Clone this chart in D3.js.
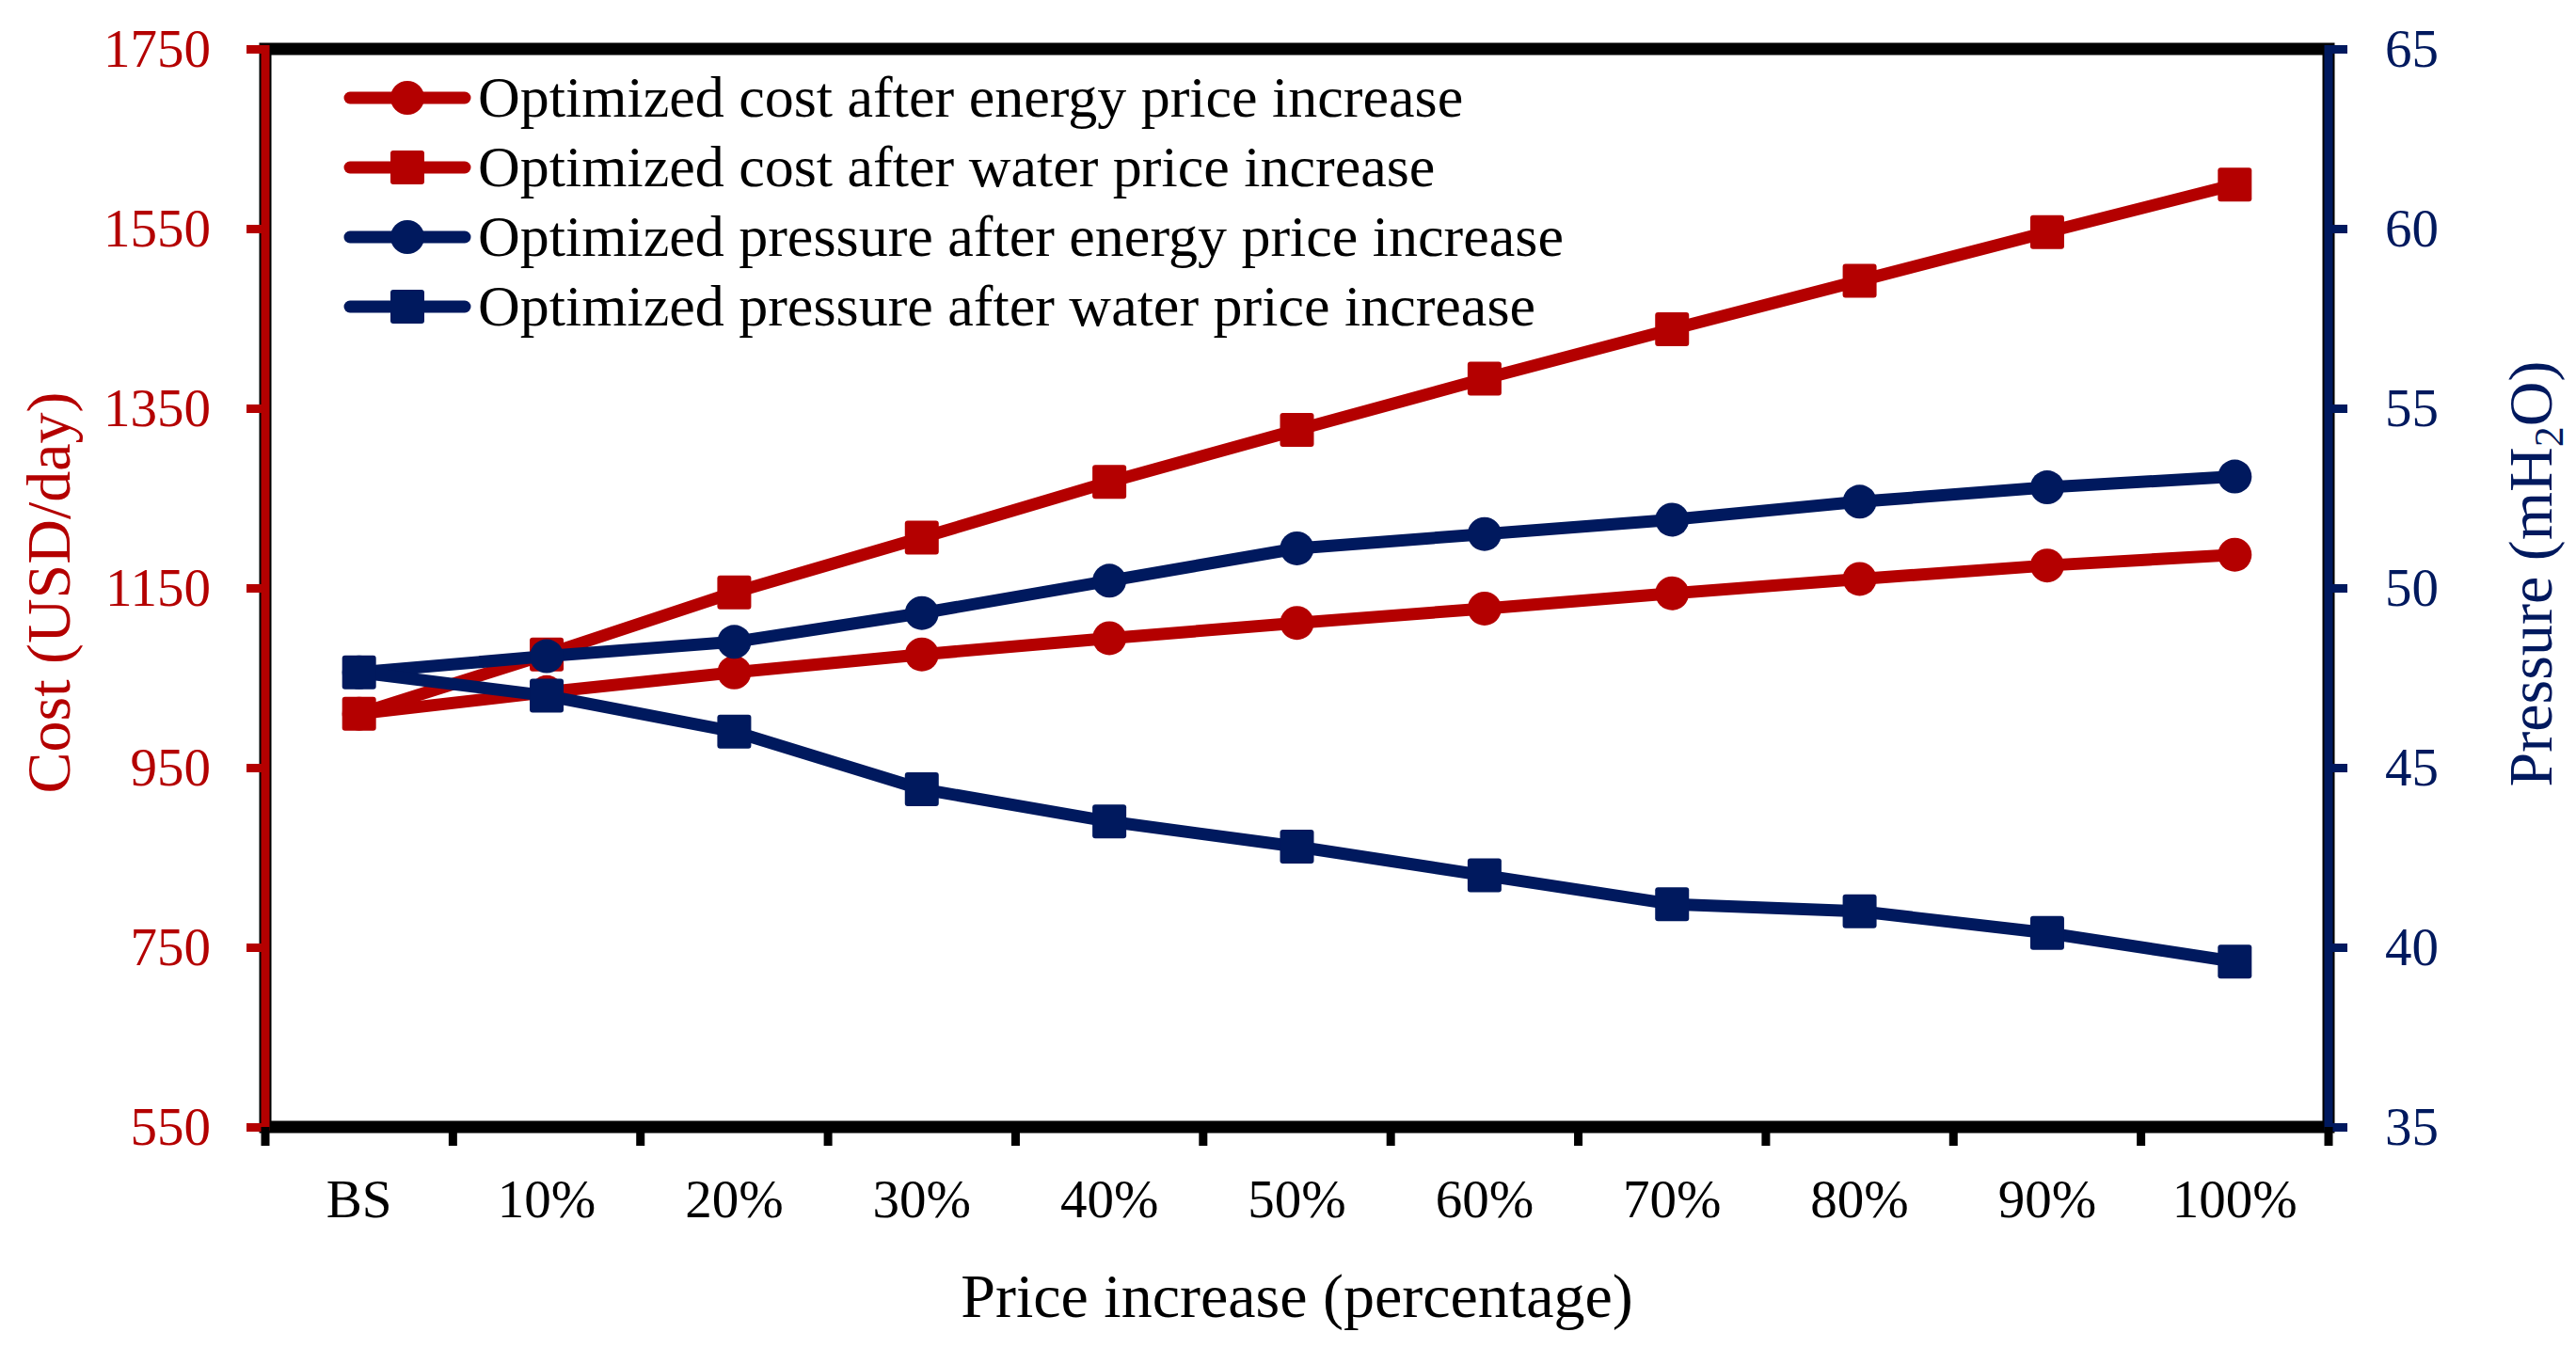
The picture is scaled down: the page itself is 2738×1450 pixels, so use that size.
<!DOCTYPE html>
<html>
<head>
<meta charset="utf-8">
<script src="https://cdn.jsdelivr.net/npm/d3@7"></script>
<style>
  body { margin: 0; background: #fff; }
  svg text { font-family: "Liberation Serif", "Times New Roman", serif; }
</style>
</head>
<body>
<svg id="chart"></svg>
<script>
var width = 2738,
    height = 1450;

var red = "#b40000",
    navy = "#00195e";

// x categories
var categories = ["BS","10%","20%","30%","40%","50%","60%","70%","80%","90%","100%"];

// cost (USD/day), left axis
var costEnergy = [1010,1034,1056,1076,1094,1111,1127,1144,1160,1175,1187];
var costWater  = [1010,1076,1145,1206,1268,1326,1383,1438,1492,1546,1599];

// pressure (mH2O), right axis
var pressEnergy = [47.65,48.1,48.5,49.3,50.2,51.1,51.5,51.9,52.4,52.8,53.1];
var pressWater  = [47.65,47.0,46.0,44.4,43.5,42.8,42.0,41.2,41.0,40.4,39.6];

var costTicks = [550,750,950,1150,1350,1550,1750];
var pressTicks = [35,40,45,50,55,60,65];

var legendLabels = [
  "Optimized cost after energy price increase",
  "Optimized cost after water price increase",
  "Optimized pressure after energy price increase",
  "Optimized pressure after water price increase"
];

// plot box (note: "top" is taken by window.top, so prefix these)
var pL = 282, pR = 2475, pT = 52, pB = 1198;

var svg = d3.select("#chart").attr("width", width).attr("height", height);

var x = d3.scaleBand().domain(categories).range([pL, pR]);
var yCost = d3.scaleLinear().domain([550,1750]).range([pB, pT]);
var yPress = d3.scaleLinear().domain([35,65]).range([pB, pT]);

// frame
svg.append("rect")
  .attr("x", pL).attr("y", pT)
  .attr("width", pR-pL).attr("height", pB-pT)
  .attr("fill", "none")
  .attr("stroke", "black")
  .attr("stroke-width", 13);

// left axis
var gLeft = svg.append("g")
  .attr("transform", "translate(" + pL + ",0)")
  .call(d3.axisLeft(yCost).tickValues(costTicks).tickSize(20).tickPadding(38).tickFormat(d3.format("d")));
gLeft.select(".domain").remove();
gLeft.selectAll(".tick line").attr("stroke", red).attr("stroke-width", 9);
gLeft.selectAll(".tick text").attr("fill", red).style("font-size", "57px");
svg.append("line")
  .attr("x1", pL).attr("x2", pL).attr("y1", pT-4).attr("y2", pB+4)
  .attr("stroke", red).attr("stroke-width", 9);

// right axis
var gRight = svg.append("g")
  .attr("transform", "translate(" + pR + ",0)")
  .call(d3.axisRight(yPress).tickValues(pressTicks).tickSize(20).tickPadding(40));
gRight.select(".domain").remove();
gRight.selectAll(".tick line").attr("stroke", navy).attr("stroke-width", 9);
gRight.selectAll(".tick text").attr("fill", navy).style("font-size", "57px");
svg.append("line")
  .attr("x1", pR).attr("x2", pR).attr("y1", pT-4).attr("y2", pB+4)
  .attr("stroke", navy).attr("stroke-width", 9);

// bottom axis: labels centred in bands, ticks at band edges
var gBottom = svg.append("g")
  .attr("transform", "translate(0," + pB + ")")
  .call(d3.axisBottom(x).tickSize(0).tickPadding(56));
gBottom.select(".domain").remove();
gBottom.selectAll(".tick text").attr("fill", "black").style("font-size", "57px");

var edges = categories.map(function(c){ return x(c); }).concat([x.range()[1]]);
svg.selectAll(".xedge")
  .data(edges)
  .enter().append("line")
  .attr("class", "xedge")
  .attr("x1", function(d){ return d; }).attr("x2", function(d){ return d; })
  .attr("y1", pB).attr("y2", pB+20)
  .attr("stroke", "black").attr("stroke-width", 9);

// axis titles
svg.append("text")
  .attr("transform", "translate(74,630) rotate(-90)")
  .attr("text-anchor", "middle")
  .attr("fill", red)
  .style("font-size", "66px")
  .text("Cost (USD/day)");

var pt = svg.append("text")
  .attr("transform", "translate(2712,610) rotate(-90)")
  .attr("text-anchor", "middle")
  .attr("fill", navy)
  .style("font-size", "66px");
pt.append("tspan").text("Pressure (mH");
pt.append("tspan").attr("dy", "12").style("font-size", "44px").text("2");
pt.append("tspan").attr("dy", "-12").text("O)");

svg.append("text")
  .attr("x", (pL+pR)/2).attr("y", 1400)
  .attr("text-anchor", "middle")
  .attr("fill", "black")
  .style("font-size", "66px")
  .text("Price increase (percentage)");

// series
var series = [
  {values: costEnergy, y: yCost, color: red, shape: "circle"},
  {values: costWater, y: yCost, color: red, shape: "square"},
  {values: pressEnergy, y: yPress, color: navy, shape: "circle"},
  {values: pressWater, y: yPress, color: navy, shape: "square"}
];

var cx = function(i){ return x(categories[i]) + x.bandwidth()/2; };
var msize = 36;

function drawMarker(g, shape, color, px, py) {
  if (shape == "circle") {
    g.append("circle").attr("cx", px).attr("cy", py).attr("r", msize/2).attr("fill", color);
  } else {
    g.append("rect").attr("x", px-msize/2).attr("y", py-msize/2)
      .attr("width", msize).attr("height", msize).attr("rx", 3).attr("fill", color);
  }
}

series.forEach(function(s){
  var line = d3.line()
    .x(function(d, i){ return cx(i); })
    .y(function(d){ return s.y(d); });
  var g = svg.append("g");
  g.append("path")
    .attr("d", line(s.values))
    .attr("fill", "none")
    .attr("stroke", s.color)
    .attr("stroke-width", 13)
    .attr("stroke-linejoin", "round");
  s.values.forEach(function(v, i){
    drawMarker(g, s.shape, s.color, cx(i), s.y(v));
  });
});

// legend
var legend = svg.selectAll(".legend")
  .data(series)
  .enter().append("g")
  .attr("class", "legend")
  .attr("transform", function(d, i){ return "translate(0," + (104 + i*74) + ")"; });

legend.append("line")
  .attr("x1", 372).attr("x2", 494)
  .attr("stroke", function(d){ return d.color; })
  .attr("stroke-width", 13)
  .attr("stroke-linecap", "round");
legend.each(function(d){
  drawMarker(d3.select(this), d.shape, d.color, 433, 0);
});
legend.append("text")
  .attr("x", 508).attr("dy", "0.33em")
  .attr("fill", "black")
  .style("font-size", "62px")
  .text(function(d, i){ return legendLabels[i]; });
</script>
</body>
</html>
